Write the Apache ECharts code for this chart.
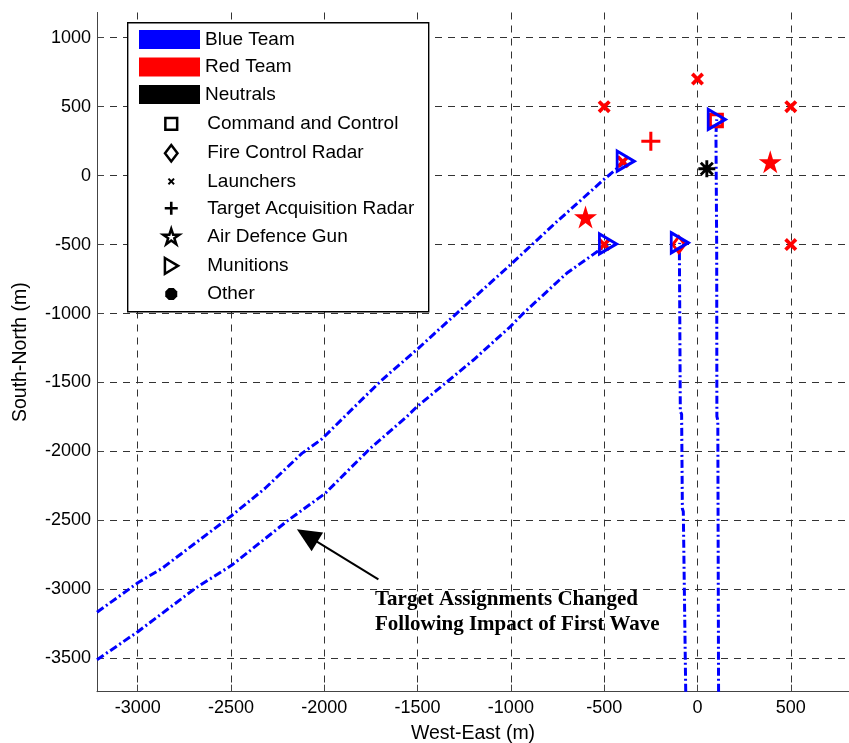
<!DOCTYPE html>
<html>
<head>
<meta charset="utf-8">
<title>Target assignments</title>
<script src="https://cdn.jsdelivr.net/npm/echarts@6.0.0/dist/echarts.min.js"></script>
<style>
  html, body { margin: 0; padding: 0; background: #fff; }
  #chart { width: 849px; height: 743px; }
</style>
</head>
<body>
<div id="chart"></div>
<script>
// blue team munition tracks, [West-East, South-North] in metres
var track1 = [[-3218, -3166], [-2999, -2952], [-2870, -2848], [-2499, -2468], [-2317, -2267], [-2120, -2014], [-2013, -1910], [-1710, -1506], [-1647, -1429], [-1496, -1252], [-1290, -998], [-1004, -648], [-754, -334], [-505, -32], [-385, 105]];
var track2 = [[-3218, -3510], [-2999, -3307], [-2692, -2993], [-2495, -2824], [-2192, -2497], [-1995, -2304], [-1888, -2159], [-1754, -1978], [-1558, -1748], [-1504, -1676], [-1201, -1337], [-1004, -1096], [-933, -998], [-701, -708], [-513, -527], [-480, -495]];
var track3 = [[-63, -3742], [-76, -2435], [-81, -2415], [-85, -1730], [-92, -1710], [-97, -530], [-95, -487]];
var track4 = [[113, -3742], [109, -1775], [104, -1745], [103, -530], [99, 300], [103, 408]];
var munitions = [[-385, 105], [-480, -495], [-95, -487], [103, 408]];

// red team assets
var launchers = [[-500, 500], [0, 700], [500, 500], [500, -500], [-500, -500], [-400, 100]];
var targetRadars = [[-250, 250]];
var airDefenceGuns = [[-600, -300], [390, 100]];
var commandPosts = [[100, 400]];
var fireControlRadars = [[-100, -500]];

// neutrals
var neutrals = [[50, 50]];

// annotation arrow (tail, head)
var arrowTail = [-1710, -2927];
var arrowHead = [-2092, -2610];
var noteText = ['Target Assignments Changed', 'Following Impact of First Wave'];

var teams = ['Blue Team', 'Red Team', 'Neutrals'];
var teamColors = ['#0000ff', '#ff0000', '#000000'];
var assetTypes = ['Command and Control', 'Fire Control Radar', 'Launchers', 'Target Acquisition Radar', 'Air Defence Gun', 'Munitions', 'Other'];

var xMin = -3218, xMax = 812, yMin = -3742, yMax = 1183;

// symbols
var xMark = 'path://M2,0 L5,3 L8,0 L10,2 L7,5 L10,8 L8,10 L5,7 L2,10 L0,8 L3,5 L0,2 Z';
var plusMark = 'path://M4.2,0 H5.8 V4.2 H10 V5.8 H5.8 V10 H4.2 V5.8 H0 V4.2 H4.2 Z';
var starMark = 'path://M50,0 L61.17,34.63 L97.55,34.55 L68.07,55.87 L79.39,90.45 L50,69 L20.61,90.45 L31.93,55.87 L2.45,34.55 L38.83,34.63 Z';
var asteriskMark = 'path://M0,8.3 H20 V11.7 H0 Z M8.3,0 H11.7 V20 H8.3 Z M1.7,4.1 L4.1,1.7 L18.3,15.9 L15.9,18.3 Z M15.9,1.7 L18.3,4.1 L4.1,18.3 L1.7,15.9 Z';
var triMark = 'path://M0,0 L15,9 L0,18 Z';
var arrowMark = 'path://M5,0 L10,10 L0,10 Z';

// legend icons, all in a 19x19 box
var legendIcons = [
    'path://M0,0 M19,19 M3.6,3.6 H15.4 V15.4 H3.6 Z',
    'path://M0,0 M19,19 M9.5,1.25 L15.75,9.5 L9.5,17.75 L3.25,9.5 Z',
    'path://M0,0 M19,19 M6,7.4 L7.4,6 L9.5,8.1 L11.6,6 L13,7.4 L10.9,9.5 L13,11.6 L11.6,13 L9.5,10.9 L7.4,13 L6,11.6 L8.1,9.5 Z',
    'path://M0,0 M19,19 M8.2,3 H10.8 V8.2 H16 V10.8 H10.8 V16 H8.2 V10.8 H3 V8.2 H8.2 Z',
    'path://M0,0 M19,19 M9.5,1.82 L11.4,7.7 L17.58,7.69 L12.57,11.31 L14.5,17.19 L9.5,13.55 L4.5,17.19 L6.43,11.31 L1.42,7.69 L7.6,7.7 Z',
    'path://M0,0 M19,19 M3.15,1.6 L16.35,9.5 L3.15,17.4 Z',
    'path://M0,0 M19,19 M12,3.5 L15.5,7 L15.5,12 L12,15.5 L7,15.5 L3.5,12 L3.5,7 L7,3.5 Z'
];
var legendHollow = [true, true, false, false, true, true, false];

var dom = document.getElementById('chart');
var myChart = echarts.init(dom, null, { renderer: 'canvas' });

var sansFont = 'Liberation Sans';
var trackStyle = { color: '#0000ff', width: 3, type: [8, 3, 2, 3] };

function trackSeries(name, data) {
    return {
        name: name,
        type: 'line',
        data: data,
        symbol: 'none',
        color: '#0000ff',
        lineStyle: trackStyle,
        z: 2
    };
}

function markerSeries(name, data, symbol, size, style, z) {
    style.opacity = 1;
    return {
        name: name,
        type: 'scatter',
        data: data,
        symbol: symbol,
        symbolSize: size,
        itemStyle: style,
        z: z || 3
    };
}

var series = [];
teams.forEach(function (t, i) {
    series.push({ name: t, type: 'scatter', data: [], itemStyle: { color: teamColors[i], opacity: 1 } });
});
assetTypes.forEach(function (t) {
    series.push({ name: t, type: 'scatter', data: [], itemStyle: { color: '#000', opacity: 1 } });
});

series.push(trackSeries('track 1', track1));
series.push(trackSeries('track 2', track2));
series.push(trackSeries('track 3', track3));
series.push(trackSeries('track 4', track4));

series.push(markerSeries('red launchers', launchers, xMark, 13, { color: '#ff0000' }));
series.push(markerSeries('red target radars', targetRadars, plusMark, 19, { color: '#ff0000' }));
series.push(markerSeries('red air defence guns', airDefenceGuns, starMark, 23, { color: '#ff0000' }));
series.push(markerSeries('red command posts', commandPosts, 'rect', 12, { color: 'transparent', borderColor: '#ff0000', borderWidth: 3.5 }));
series.push(markerSeries('red fire control radars', fireControlRadars, 'diamond', [12, 16], { color: 'transparent', borderColor: '#ff0000', borderWidth: 3 }));
series.push(markerSeries('neutral other', neutrals, asteriskMark, 17, { color: '#000' }));
series.push(markerSeries('blue munitions', munitions, triMark, [17, 20], { color: 'transparent', borderColor: '#0000ff', borderWidth: 3 }, 4));

series.push({
    name: 'note',
    type: 'line',
    data: [],
    markLine: {
        silent: true,
        animation: false,
        symbol: ['none', arrowMark],
        symbolSize: [22, 24],
        label: { show: false },
        lineStyle: { color: '#000', width: 2, type: 'solid' },
        data: [[{ coord: arrowTail }, { coord: arrowHead }]]
    }
});

function plainNumber(v) {
    return String(v);
}

option = {
    backgroundColor: '#fff',
    animation: false,
    grid: { left: 97, top: 12.5, right: 0, bottom: 51.3, containLabel: false, outerBoundsMode: 'none' },
    xAxis: {
        type: 'value',
        min: xMin,
        max: xMax,
        splitNumber: 8,
        name: 'West-East (m)',
        nameLocation: 'middle',
        nameGap: 32,
        nameTextStyle: { fontSize: 19.5, color: '#000', fontFamily: sansFont },
        axisLine: { onZero: false, lineStyle: { color: '#444', width: 1 } },
        axisTick: { inside: true, length: 7, lineStyle: { color: '#444' } },
        axisLabel: { fontSize: 18, color: '#000', fontFamily: sansFont, margin: 7, showMinLabel: false, showMaxLabel: false, formatter: plainNumber },
        splitLine: { show: true, showMaxLine: false, lineStyle: { color: '#333', width: 1, type: [7, 6] } }
    },
    yAxis: {
        type: 'value',
        min: yMin,
        max: yMax,
        splitNumber: 10,
        name: 'South-North (m)',
        nameLocation: 'middle',
        nameGap: 66,
        nameTextStyle: { fontSize: 19.5, color: '#000', fontFamily: sansFont },
        axisLine: { show: true, onZero: false, lineStyle: { color: '#444', width: 1 } },
        axisTick: { show: true, inside: true, length: 7, lineStyle: { color: '#444' } },
        axisLabel: { fontSize: 18, color: '#000', fontFamily: sansFont, margin: 6, showMinLabel: false, showMaxLabel: false, formatter: plainNumber },
        splitLine: { show: true, showMaxLine: false, lineStyle: { color: '#333', width: 1, type: [7, 6] } }
    },
    legend: [
        {
            data: teams.map(function (t, i) {
                return { name: t, icon: 'rect', itemStyle: { color: teamColors[i], borderWidth: 0, opacity: 1 } };
            }),
            orient: 'vertical',
            left: 139,
            top: 29.9,
            itemWidth: 61,
            itemHeight: 19,
            itemGap: 8.6,
            padding: 0,
            selectedMode: false,
            z: 5,
            textStyle: { fontSize: 19, lineHeight: 19, color: '#000', fontFamily: sansFont }
        },
        {
            data: assetTypes.map(function (t, i) {
                return {
                    name: t,
                    icon: legendIcons[i],
                    itemStyle: legendHollow[i]
                        ? { color: '#fff', borderColor: '#000', borderWidth: 2.5, opacity: 1 }
                        : { color: '#000', borderWidth: 0, opacity: 1 }
                };
            }),
            orient: 'vertical',
            left: 160.5,
            top: 113.1,
            itemWidth: 19,
            itemHeight: 19,
            itemGap: 7.9,
            padding: 0,
            selectedMode: false,
            z: 5,
            textStyle: { fontSize: 19, lineHeight: 19, color: '#000', fontFamily: sansFont, padding: [0, 0, 0, 21.5] }
        }
    ],
    graphic: [
        {
            type: 'rect',
            left: 127,
            top: 22,
            z: 3,
            shape: { width: 301, height: 289 },
            style: { fill: '#fff', stroke: '#000', lineWidth: 1.4 }
        },
        {
            type: 'text',
            left: 375,
            top: 587,
            z: 5,
            style: {
                text: noteText.join('\n'),
                fontSize: 21,
                fontWeight: 'bold',
                fontFamily: 'Liberation Serif',
                lineHeight: 25,
                fill: '#000'
            }
        }
    ],
    series: series
};

if (option && typeof option === 'object') {
    myChart.setOption(option);
}
window.addEventListener('resize', myChart.resize);
</script>
</body>
</html>
